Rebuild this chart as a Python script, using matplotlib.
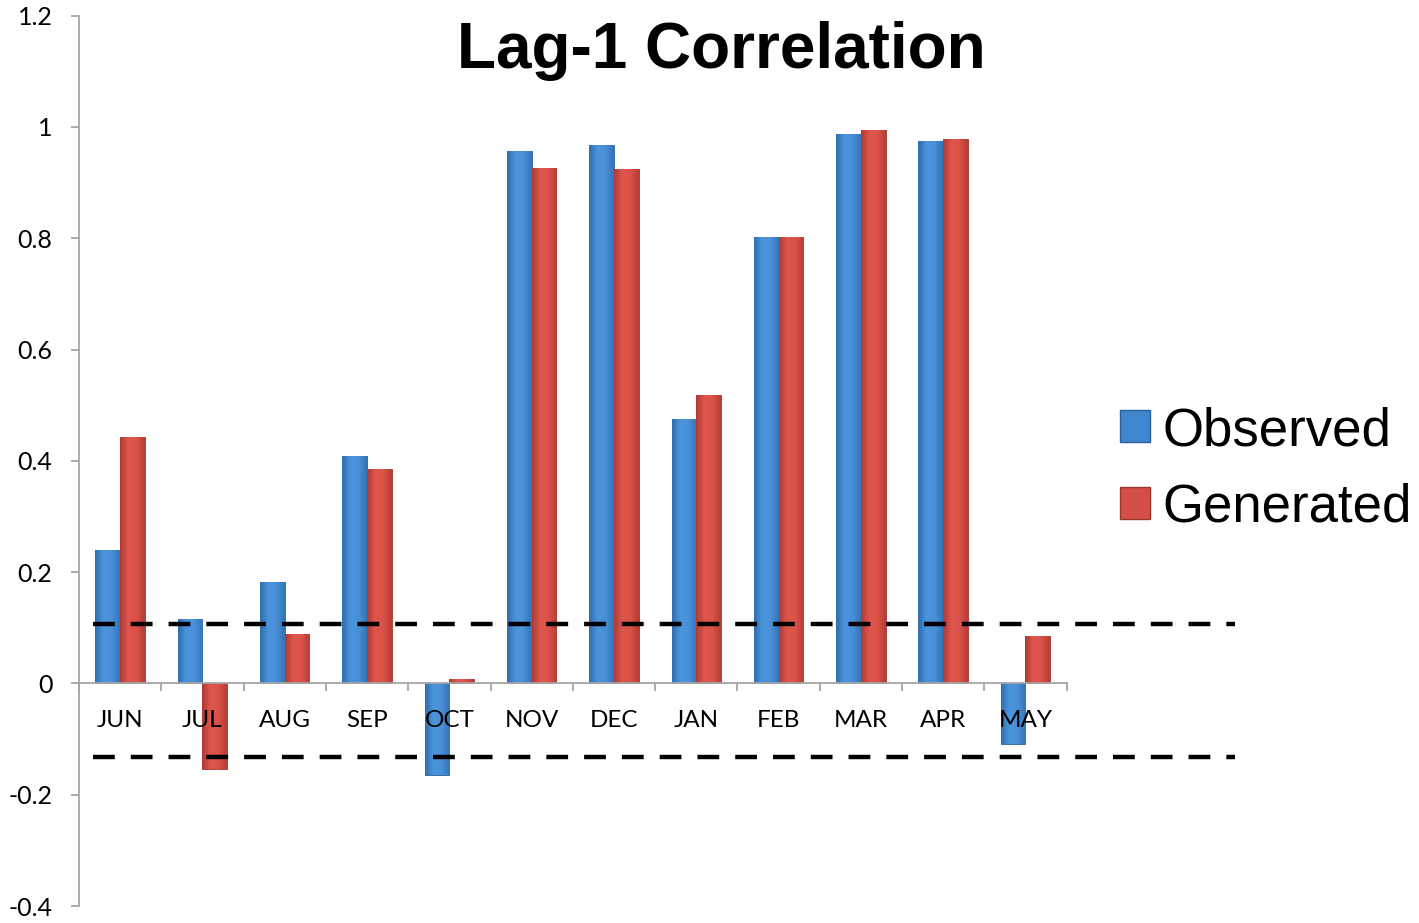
import matplotlib
matplotlib.use("Agg")
import matplotlib.pyplot as plt
import numpy as np
from matplotlib.colors import LinearSegmentedColormap

months = ['JUN', 'JUL', 'AUG', 'SEP', 'OCT', 'NOV', 'DEC', 'JAN', 'FEB', 'MAR', 'APR', 'MAY']
observed = [0.240, 0.115, 0.183, 0.409, -0.165, 0.957, 0.968, 0.476, 0.802, 0.987, 0.974, -0.108]
generated = [0.442, -0.154, 0.089, 0.386, 0.008, 0.927, 0.925, 0.519, 0.802, 0.994, 0.979, 0.086]
upper_bound = 0.107
lower_bound = -0.133
yticks = [-0.4, -0.2, 0, 0.2, 0.4, 0.6, 0.8, 1, 1.2]
ytick_labels = ['-0.4', '-0.2', '0', '0.2', '0.4', '0.6', '0.8', '1', '1.2']

W, H = 1419, 923
fig = plt.figure(figsize=(W / 100, H / 100), dpi=100)
ax = fig.add_axes([79 / W, (H - 906) / H, (1240 - 79) / W, (906 - 15.7) / H])

blue_cmap = LinearSegmentedColormap.from_list('b', ['#2f6cae', '#4b95dd', '#4a90d8', '#3474b8'])
red_cmap = LinearSegmentedColormap.from_list('r', ['#ad3a33', '#e0564d', '#da5249', '#b53d36'])

x = np.arange(len(months)) + 0.5
w = 0.30
grad = np.linspace(0, 1, 64).reshape(1, -1)


def shaded_bars(xpos, vals, cmap, edge):
    bars = ax.bar(xpos, vals, w, color=cmap(0.5), edgecolor=edge, linewidth=0.6, zorder=2)
    for b in bars:
        x0, y0 = b.get_x(), b.get_y()
        bw, bh = b.get_width(), b.get_height()
        im = ax.imshow(grad, extent=[x0, x0 + bw, y0, y0 + bh], cmap=cmap,
                       aspect='auto', zorder=2.5, interpolation='bicubic')
        im.set_clip_path(b)
    return bars


shaded_bars(x - w / 2, observed, blue_cmap, '#2a5f99')
shaded_bars(x + w / 2, generated, red_cmap, '#9c342e')

# significance bounds
for yb in [upper_bound, lower_bound]:
    ax.plot([0.17, 14.05], [yb, yb], color='black', lw=3.2, dashes=(4.9, 3.6), zorder=4,
            solid_capstyle='butt', dash_capstyle='butt')

ax.set_xlim(0, (1240 - 79) / 82.3)
ax.set_ylim(-0.4, 1.2)

axis_gray = '#a6a6a6'
for s in ['top', 'right']:
    ax.spines[s].set_visible(False)
ax.spines['left'].set_color(axis_gray)
ax.spines['left'].set_linewidth(1.3)
ax.spines['bottom'].set_position(('data', 0))
ax.spines['bottom'].set_bounds(0, len(months))
ax.spines['bottom'].set_color(axis_gray)
ax.spines['bottom'].set_linewidth(1.3)
ax.spines['bottom'].set_zorder(3)

ax.set_yticks(yticks)
ax.set_yticklabels(ytick_labels, fontsize=18, family='Lato')
ax.tick_params(axis='y', length=6, width=1.3, color=axis_gray, pad=13)

ax.set_xticks(np.arange(len(months) + 1))
ax.set_xticklabels([])
ax.set_xticks(x, minor=True)
ax.set_xticklabels(months, minor=True, fontsize=17.5, family='Lato')
ax.tick_params(axis='x', which='major', length=6, width=1.3, color=axis_gray)
ax.tick_params(axis='x', which='minor', length=0, pad=19)
ax.xaxis.set_zorder(5)

fig.text(721 / W, 1 - 51 / H, 'Lag-1 Correlation', ha='center', va='center',
         fontsize=46, fontweight='bold', family='Liberation Sans')

handles = [plt.Rectangle((0, 0), 1, 1, facecolor='#3f86cf', edgecolor='#2a5f99'),
           plt.Rectangle((0, 0), 1, 1, facecolor='#d34f47', edgecolor='#9c342e')]
fig.legend(handles, ['Observed', 'Generated'], loc='upper left',
           bbox_to_anchor=(1120 / W, 1 - 406 / H), frameon=False,
           prop={'family': 'Liberation Sans', 'size': 38},
           handlelength=0.56, handleheight=0.56, handletextpad=0.24,
           labelspacing=0.5, borderpad=0, borderaxespad=0)

fig.savefig('out.png', dpi=100)
